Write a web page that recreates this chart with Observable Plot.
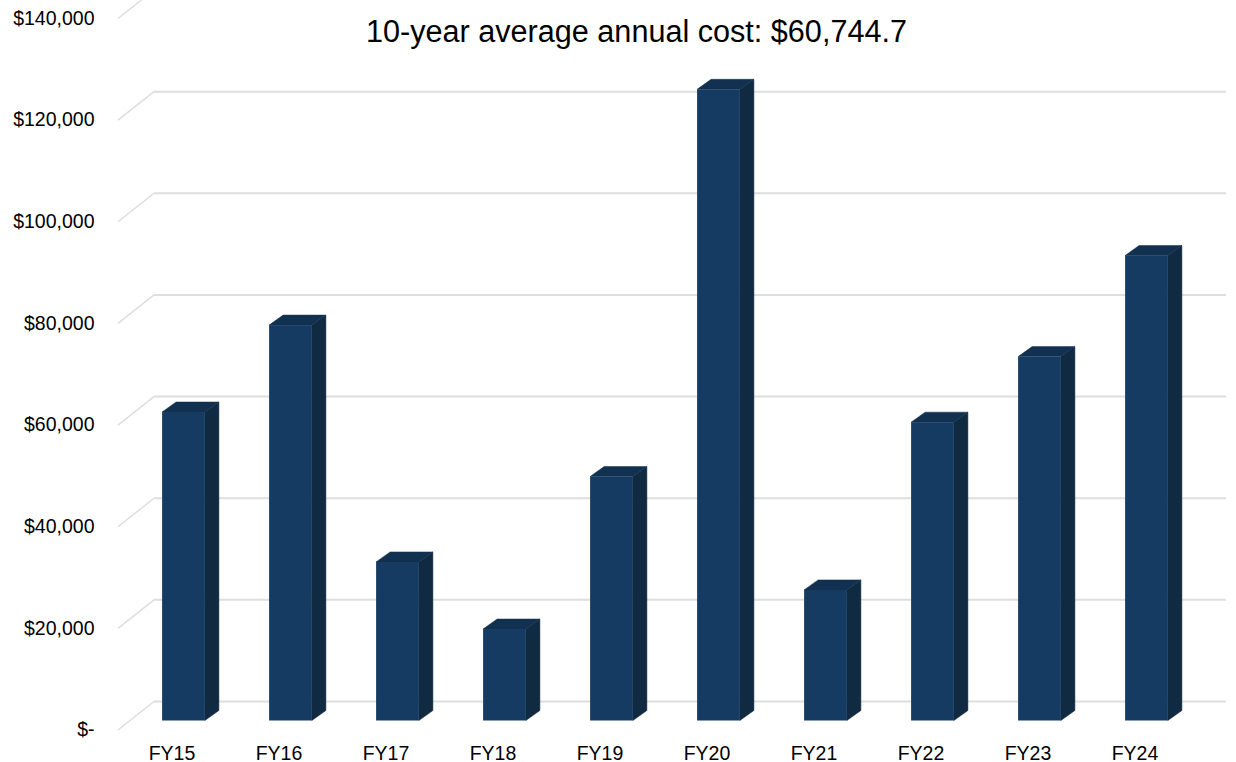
<!DOCTYPE html>
<html>
<head>
<meta charset="utf-8">
<style>html,body{margin:0;padding:0;background:#fff}svg{display:block}</style>
<script src="https://cdn.jsdelivr.net/npm/d3@7"></script>
<script src="https://cdn.jsdelivr.net/npm/@observablehq/plot@0.6"></script>
</head>
<body>
<div id="chart"></div>
<script>
const years = ["FY15","FY16","FY17","FY18","FY19","FY20","FY21","FY22","FY23","FY24"];
const costs = [60700,77800,31200,18000,48000,124200,25700,58700,71600,91500];
const yTicks = [0,20000,40000,60000,80000,100000,120000,140000];
const chartTitle = "10-year average annual cost: $60,744.7";

const rows = years.map((year, i) => ({year, cost: costs[i]}));
const fmt = d3.format(",");
const FRONT = "#163b62", SIDE = "#102a41", TOP = "#12304f", GRID = "#dedede";
const wallDx = 36, wallDy = -28.5;   // floor depth: front edge to back wall
const barDx = 12, barDy = -9;        // bars stand part-way back on the floor
const depthX = 14, depthY = -10;     // depth of each bar

function slantedGrid(index, scales, values, dims, ctx, next) {
  const g = next(index, scales, values, dims, ctx);
  d3.select(g).selectAll("line").each(function () {
    const line = d3.select(this);
    const x = +line.attr("x1"), y = +line.attr("y1");
    d3.select(this.parentNode).append("line")
      .attr("x1", x).attr("y1", y)
      .attr("x2", x - wallDx).attr("y2", y - wallDy)
      .attr("stroke", GRID).attr("stroke-width", 1.5);
  });
  return g;
}

function bar3d(index, scales, values, dims, ctx, next) {
  const g = next(index, scales, values, dims, ctx);
  d3.select(g).selectAll("rect").each(function () {
    const r = d3.select(this);
    const x = +r.attr("x"), y = +r.attr("y"), w = +r.attr("width"), h = +r.attr("height");
    const parent = d3.select(this.parentNode);
    parent.insert("polygon", "rect").attr("fill", SIDE).attr("stroke", SIDE).attr("stroke-width", 0.5).attr("points", [
      [x + w, y], [x + w + depthX, y + depthY], [x + w + depthX, y + h + depthY], [x + w, y + h]
    ].join(" "));
    parent.insert("polygon", "rect").attr("fill", TOP).attr("stroke", TOP).attr("stroke-width", 0.5).attr("points", [
      [x, y], [x + depthX, y + depthY], [x + w + depthX, y + depthY], [x + w, y]
    ].join(" "));
  });
  return g;
}

const chart = Plot.plot({
  width: 1236,
  height: 762,
  marginLeft: 118,
  marginRight: 46,
  marginTop: 0,
  marginBottom: 32.5,
  style: {fontFamily: "'Liberation Sans', Arial, sans-serif", background: "#fff", color: "#000", overflow: "hidden"},
  x: {type: "band", domain: years, range: [118, 1188], paddingInner: 0.6, paddingOuter: 0.3, align: 0.5, round: false, label: null},
  y: {domain: [0, 140000], range: [729.5, 18], label: null},
  marks: [
    Plot.ruleY(yTicks, {stroke: GRID, strokeWidth: 2, dx: wallDx, dy: wallDy, render: slantedGrid}),
    Plot.barY(rows, {x: "year", y: "cost", fill: FRONT, dx: barDx, dy: barDy, render: bar3d}),
    Plot.axisY(yTicks, {anchor: "left", tickSize: 0, tickPadding: 24, fontSize: 19.5, label: null,
      tickFormat: d => d === 0 ? "$-" : "$" + fmt(d)}),
    Plot.axisX({anchor: "bottom", tickSize: 0, tickPadding: 16.5, fontSize: 19.5, label: null}),
    Plot.text([chartTitle], {frameAnchor: "top", dx: -18, dy: 32, fontSize: 30.6, fill: "#000", lineAnchor: "middle"})
  ]
});
document.getElementById("chart").appendChild(chart);
</script>
</body>
</html>
